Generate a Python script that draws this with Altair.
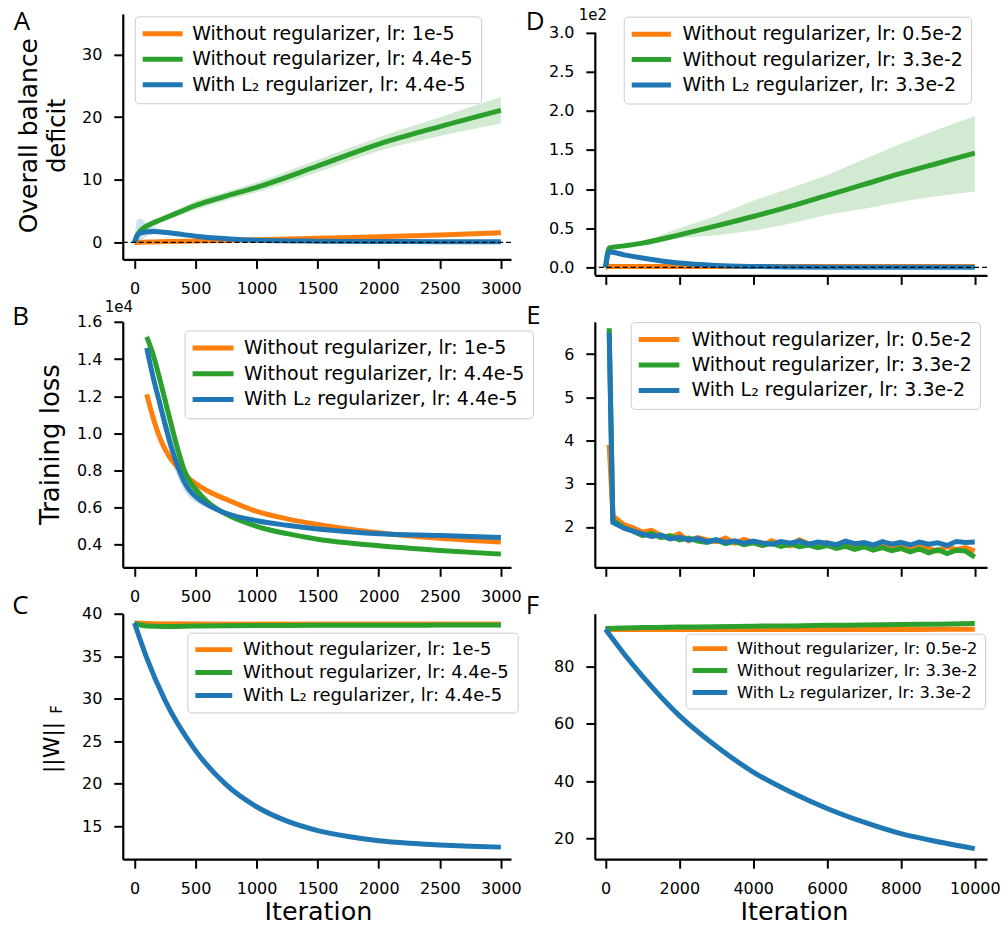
import altair as alt
import pandas as pd

ORANGE, GREEN, BLUE = "#ff7f0e", "#2ca02c", "#1f77b4"
PALETTE = [ORANGE, GREEN, BLUE]
FONT = "DejaVu Sans"
LETTER_FONT = "Open Sans"

LABELS_LEFT = ["Without regularizer, lr: 1e-5",
               "Without regularizer, lr: 4.4e-5",
               "With L\u2082 regularizer, lr: 4.4e-5"]
LABELS_RIGHT = ["Without regularizer, lr: 0.5e-2",
                "Without regularizer, lr: 3.3e-2",
                "With L\u2082 regularizer, lr: 3.3e-2"]

LEFT_XTICKS = [0, 500, 1000, 1500, 2000, 2500, 3000]
RIGHT_XTICKS = [0, 2000, 4000, 6000, 8000, 10000]

# ---------------- Panel A : overall balance deficit ----------------
A_iter = [0, 25, 50, 100, 150, 200, 300, 400, 500, 750, 1000, 1500, 2000, 2500, 3000]
A_orange = [0.0, 0.02, 0.03, 0.06, 0.08, 0.1, 0.14, 0.18, 0.22, 0.32, 0.42, 0.65, 0.9, 1.2, 1.55]
A_orange_lo = [-0.1, -0.08, -0.07, -0.05, -0.03, -0.01, 0.03, 0.07, 0.1, 0.18, 0.27, 0.45, 0.65, 0.9, 1.2]
A_orange_hi = [0.1, 0.12, 0.13, 0.17, 0.19, 0.21, 0.25, 0.29, 0.34, 0.46, 0.57, 0.85, 1.15, 1.5, 1.9]
A_green = [0.0, 1.2, 1.9, 2.6, 3.1, 3.5, 4.3, 5.1, 5.9, 7.4, 8.8, 12.2, 15.7, 18.5, 21.1]
A_green_lo = [0.0, 0.7, 1.4, 2.1, 2.6, 3.0, 3.8, 4.5, 5.2, 6.7, 8.0, 11.2, 14.6, 17.0, 19.0]
A_green_hi = [0.0, 1.7, 2.4, 3.1, 3.6, 4.0, 4.8, 5.7, 6.6, 8.1, 9.6, 13.2, 16.8, 20.0, 23.2]
A_blue = [0.0, 1.2, 1.5, 1.7, 1.75, 1.7, 1.5, 1.25, 1.0, 0.6, 0.35, 0.2, 0.15, 0.12, 0.1]
A_blue_lo = [-0.6, -0.2, 0.3, 1.0, 1.3, 1.35, 1.25, 1.05, 0.85, 0.5, 0.28, 0.15, 0.1, 0.08, 0.06]
A_blue_hi = [0.6, 3.7, 3.8, 3.0, 2.5, 2.2, 1.8, 1.5, 1.2, 0.7, 0.42, 0.25, 0.2, 0.16, 0.14]

# ---------------- Panel B : training loss (raw values, axis in 1e4) ----------------
B_iter = [100, 150, 200, 250, 300, 350, 400, 450, 500, 600, 750, 1000, 1250, 1500, 2000, 2500, 3000]
B_orange = [12100, 10900, 9900, 9150, 8600, 8200, 7850, 7550, 7300, 6900, 6450, 5800, 5400, 5100, 4650, 4350, 4150]
B_green = [15200, 14300, 13100, 11800, 10500, 9250, 8150, 7450, 7000, 6300, 5650, 5000, 4600, 4300, 3950, 3700, 3500]
B_blue = [14600, 13100, 11800, 10500, 9300, 8300, 7500, 6950, 6600, 6150, 5700, 5300, 5050, 4850, 4600, 4500, 4400]
B_orange_sp = [100, 100, 100, 80, 70, 60, 60, 55, 50, 50, 50, 50, 50, 50, 50, 50, 50]
B_green_sp = [200, 300, 400, 500, 550, 500, 400, 300, 250, 150, 100, 80, 60, 50, 50, 50, 50]
B_blue_sp = [200, 300, 450, 600, 650, 600, 500, 400, 300, 150, 100, 80, 60, 50, 50, 50, 50]

# ---------------- Panel C : ||W||_F ----------------
C_iter = [0, 100, 250, 500, 750, 1000, 1250, 1500, 1750, 2000, 2250, 2500, 2750, 3000]
C_orange = [38.9, 38.85, 38.8, 38.78, 38.76, 38.75, 38.75, 38.75, 38.75, 38.75, 38.75, 38.75, 38.75, 38.75]
C_orange_sp = [0.05, 0.15, 0.3, 0.35, 0.35, 0.35, 0.35, 0.35, 0.35, 0.35, 0.35, 0.35, 0.35, 0.35]
C_green = [38.9, 38.55, 38.5, 38.55, 38.58, 38.6, 38.62, 38.63, 38.64, 38.65, 38.65, 38.66, 38.66, 38.67]
C_blue = [38.9, 34.8, 29.8, 23.9, 19.9, 17.3, 15.6, 14.5, 13.8, 13.3, 13.0, 12.8, 12.65, 12.55]

# ---------------- Panel D : overall balance deficit (raw values, axis in 1e2) ----------------
D_iter = [0, 100, 500, 1000, 2000, 3000, 4000, 5000, 6000, 7000, 8000, 9000, 10000]
D_orange = [0, 1.0, 1.2, 1.2, 1.2, 1.2, 1.3, 1.3, 1.3, 1.3, 1.3, 1.3, 1.3]
D_green = [0, 25, 27.5, 31, 41.5, 53, 65, 78, 92, 106, 120, 133, 146]
D_green_lo = [0, 24, 26, 28, 37, 41, 47, 56, 67, 75, 84, 91, 97]
D_green_hi = [0, 26, 30, 34, 50, 66, 85, 101, 118, 138, 158, 176, 193]
D_blue = [0, 20, 16, 12, 5.5, 2.5, 1.2, 0.6, 0.3, 0.2, 0.1, 0.1, 0.1]

# ---------------- Panel E : training loss ----------------
E_iter = [100, 200, 500, 750, 1000, 1250, 1500, 1750, 2000, 2250, 2500, 2750, 3000, 3250,
          3500, 3750, 4000, 4250, 4500, 4750, 5000, 5250, 5500, 5750, 6000, 6250, 6500,
          6750, 7000, 7250, 7500, 7750, 8000, 8250, 8500, 8750, 9000, 9250, 9500, 9750, 10000]
E_orange = [3.9, 2.25, 2.05, 1.98, 1.88, 1.92, 1.80, 1.76, 1.84, 1.68, 1.75, 1.70, 1.66, 1.74,
            1.62, 1.71, 1.64, 1.57, 1.68, 1.60, 1.56, 1.70, 1.61, 1.54, 1.64, 1.56, 1.62,
            1.51, 1.58, 1.50, 1.57, 1.48, 1.56, 1.47, 1.54, 1.50, 1.44, 1.55, 1.47, 1.52, 1.44]
E_green = [6.6, 2.15, 1.98, 1.90, 1.80, 1.85, 1.75, 1.80, 1.70, 1.74, 1.67, 1.64, 1.70, 1.61,
           1.66, 1.59, 1.63, 1.57, 1.62, 1.55, 1.60, 1.54, 1.58, 1.52, 1.57, 1.50, 1.55,
           1.48, 1.54, 1.46, 1.52, 1.45, 1.50, 1.42, 1.49, 1.40, 1.47, 1.38, 1.46, 1.44, 1.30]
E_blue = [6.5, 2.10, 1.97, 1.90, 1.84, 1.78, 1.81, 1.72, 1.76, 1.70, 1.73, 1.66, 1.70, 1.64,
          1.68, 1.62, 1.67, 1.63, 1.60, 1.66, 1.62, 1.67, 1.60, 1.65, 1.62, 1.59, 1.67,
          1.61, 1.64, 1.58, 1.66, 1.60, 1.64, 1.58, 1.65, 1.60, 1.63, 1.57, 1.66, 1.64, 1.65]

# ---------------- Panel F : ||W||_F ----------------
F_iter = [0, 500, 1000, 2000, 3000, 4000, 5000, 6000, 7000, 8000, 9000, 10000]
F_orange = [93.0, 92.9, 92.9, 92.9, 92.9, 92.9, 92.9, 92.95, 92.95, 92.95, 93.0, 93.0]
F_green = [93.3, 93.5, 93.6, 93.8, 93.9, 94.1, 94.2, 94.4, 94.5, 94.7, 94.8, 95.0]
F_blue = [93.0, 84.5, 76.7, 62.9, 52.2, 43.2, 36.3, 30.5, 25.7, 21.7, 18.9, 16.5]


def make_legend(x, y, length, font, clip, rowpad, pad, symoff, laboff):
    return alt.Legend(orient="none", legendX=x, legendY=y, title=None,
                      symbolType="stroke", symbolSize=length * length, symbolStrokeWidth=5,
                      clipHeight=clip, rowPadding=rowpad, padding=pad,
                      symbolOffset=symoff, labelOffset=laboff,
                      labelFontSize=font, labelFont=FONT, labelColor="black", labelLimit=500,
                      fillColor="rgba(255,255,255,0.85)", strokeColor="#cccccc", cornerRadius=4)


def make_panel(labels, lines, bands, xdom, ydom, w, h, xticks, yticks, legend,
               texts=(), xlabels=True, ylabel_expr=None, interp="monotone",
               zero_line=False, spine_top=None):
    xs = alt.Scale(domain=xdom, nice=False, zero=False)
    ys = alt.Scale(domain=ydom, nice=False, zero=False)
    xaxis = alt.Axis(values=xticks, labels=xlabels, title=None, labelFlush=False,
                     labelOverlap=False, format="d")
    ykw = dict(values=yticks, title=None, labelFlush=False, labelOverlap=False,
               domain=spine_top is None)
    if ylabel_expr:
        ykw["labelExpr"] = ylabel_expr
    else:
        ykw["format"] = "d"
    yaxis = alt.Axis(**ykw)
    cscale = alt.Scale(domain=labels, range=PALETTE)
    layers = []
    for it, lo, hi, lab in bands:
        df = pd.DataFrame({"it": it, "lo": lo, "hi": hi, "s": lab})
        layers.append(alt.Chart(df).mark_area(
            opacity=0.22, interpolate=interp, color=PALETTE[labels.index(lab)]).encode(
            x=alt.X("it:Q", scale=xs, axis=xaxis),
            y=alt.Y("lo:Q", scale=ys, axis=yaxis),
            y2="hi:Q"))
    for it, v, lab in lines:
        df = pd.DataFrame({"it": it, "v": v, "s": lab})
        layers.append(alt.Chart(df).mark_line(strokeWidth=5, interpolate=interp).encode(
            x=alt.X("it:Q", scale=xs, axis=xaxis),
            y=alt.Y("v:Q", scale=ys, axis=yaxis),
            color=alt.Color("s:N", scale=cscale, legend=legend)))
    if zero_line:
        layers.append(alt.Chart(pd.DataFrame({"z": [0]})).mark_rule(
            color="black", strokeWidth=1.3, strokeDash=[5, 3]).encode(
            y=alt.Y("z:Q", scale=ys, axis=yaxis)))
    if spine_top is not None:
        layers.append(alt.Chart(pd.DataFrame({"top": [spine_top], "bot": [ydom[0]]})).mark_rule(
            color="black", strokeWidth=2.2).encode(
            x=alt.value(0.5), y=alt.Y("top:Q", scale=ys, axis=yaxis), y2="bot:Q"))
    for t in texts:
        df = pd.DataFrame({"t": [t["text"]]})
        layers.append(alt.Chart(df).mark_text(
            font=t.get("font", FONT), fontSize=t["size"], angle=t.get("angle", 0),
            align=t.get("align", "left"), baseline="alphabetic", color="black").encode(
            text="t:N", x=alt.value(t["x"]), y=alt.value(t["y"])))
    return alt.layer(*layers).properties(width=w, height=h)


def letter(ch, x, y):
    return {"text": ch, "x": x, "y": y, "size": 26, "font": LETTER_FONT}


def ytitle(txt, x, y, size=24):
    return {"text": txt, "x": x, "y": y, "size": size, "angle": 270, "align": "center"}


LW, RW = 389, 393
LXDOM = [-96, 3083]
RXDOM = [-289, 10332]
COL_GAP = 84          # right column sits 3 px left so the last tick label stays inside the page
SHIFT = 3             # compensation for texts / legends of the right column
LEG_FONT = 19.0

pA = make_panel(
    LABELS_LEFT,
    [(A_iter, A_orange, LABELS_LEFT[0]), (A_iter, A_green, LABELS_LEFT[1]), (A_iter, A_blue, LABELS_LEFT[2])],
    [(A_iter, A_orange_lo, A_orange_hi, LABELS_LEFT[0]), (A_iter, A_green_lo, A_green_hi, LABELS_LEFT[1]),
     (A_iter, A_blue_lo, A_blue_hi, LABELS_LEFT[2])],
    LXDOM, [-2.71, 36.48], LW, 246, LEFT_XTICKS, [0, 10, 20, 30],
    make_legend(12, 2.5, 43, LEG_FONT, 19, 5.5, 8, -5.5, 7),
    texts=[letter("A", -109.3, 16.3), ytitle("Overall balance", -86, 122, 25), ytitle("deficit", -58, 122)],
    zero_line=True)

pD = make_panel(
    LABELS_RIGHT,
    [(D_iter, D_orange, LABELS_RIGHT[0]), (D_iter, D_green, LABELS_RIGHT[1]), (D_iter, D_blue, LABELS_RIGHT[2])],
    [(D_iter, D_green_lo, D_green_hi, LABELS_RIGHT[1])],
    RXDOM, [-10.2, 323.8], RW, 262, RIGHT_XTICKS, [0, 50, 100, 150, 200, 250, 300],
    make_legend(26 + SHIFT, 2.8, 42, LEG_FONT, 19, 5.5, 8, -5.2, 9),
    texts=[letter("D", -72.3 + SHIFT, 16.3), {"text": "1e2", "x": -19 + SHIFT, "y": 6.5, "size": 15}],
    xlabels=False, ylabel_expr="format(datum.value / 100, '.1f')", zero_line=True, spine_top=300)

pB = make_panel(
    LABELS_LEFT,
    [(B_iter, B_orange, LABELS_LEFT[0]), (B_iter, B_green, LABELS_LEFT[1]), (B_iter, B_blue, LABELS_LEFT[2])],
    [(B_iter, [v - s for v, s in zip(B_orange, B_orange_sp)], [v + s for v, s in zip(B_orange, B_orange_sp)], LABELS_LEFT[0]),
     (B_iter, [v - s for v, s in zip(B_green, B_green_sp)], [v + s for v, s in zip(B_green, B_green_sp)], LABELS_LEFT[1]),
     (B_iter, [v - s for v, s in zip(B_blue, B_blue_sp)], [v + s for v, s in zip(B_blue, B_blue_sp)], LABELS_LEFT[2])],
    LXDOM, [2790, 16010], LW, 246, LEFT_XTICKS, [4000, 6000, 8000, 10000, 12000, 14000, 16000],
    make_legend(62, 8.7, 42, LEG_FONT, 19, 5.8, 8, -3.5, 8),
    texts=[letter("B", -110.7, 2.8), {"text": "1e4", "x": -18, "y": -9.5, "size": 15},
           ytitle("Training loss", -64, 123, 26)],
    ylabel_expr="format(datum.value / 10000, '.1f')")

pE = make_panel(
    LABELS_RIGHT,
    [(E_iter, E_orange, LABELS_RIGHT[0]), (E_iter, E_green, LABELS_RIGHT[1]), (E_iter, E_blue, LABELS_RIGHT[2])],
    [],
    RXDOM, [1.064, 6.75], RW, 246, RIGHT_XTICKS, [2, 3, 4, 5, 6],
    make_legend(33 + SHIFT, 0.3, 42, LEG_FONT, 19, 5.5, 8, -3.8, 9.7),
    texts=[letter("E", -71.7 + SHIFT, 2.2)],
    xlabels=False, interp="linear")

pC = make_panel(
    LABELS_LEFT,
    [(C_iter, C_orange, LABELS_LEFT[0]), (C_iter, C_green, LABELS_LEFT[1]), (C_iter, C_blue, LABELS_LEFT[2])],
    [(C_iter, [v - s for v, s in zip(C_orange, C_orange_sp)], [v + s for v, s in zip(C_orange, C_orange_sp)], LABELS_LEFT[0])],
    LXDOM, [11.13, 40.0], LW, 246, LEFT_XTICKS, [15, 20, 25, 30, 35, 40],
    make_legend(64.7, 19, 39, 18, 18, 5, 8, -4.5, 8.3),
    texts=[letter("C", -110.8, 0.3), ytitle("||W||", -64, 134, 22), ytitle("F", -61, 96, 15),
           {"text": "Iteration", "x": 196, "y": 307, "size": 25.5, "align": "center"}])

pF = make_panel(
    LABELS_RIGHT,
    [(F_iter, F_orange, LABELS_RIGHT[0]), (F_iter, F_green, LABELS_RIGHT[1]), (F_iter, F_blue, LABELS_RIGHT[2])],
    [],
    RXDOM, [12.8, 98.45], RW, 246, RIGHT_XTICKS, [20, 40, 60, 80],
    make_legend(88 + SHIFT, 20, 36, 16.3, 16, 5, 7, -3.8, 7.3),
    texts=[letter("F", -72.3 + SHIFT, 0.3),
           {"text": "Iteration", "x": 197 + SHIFT, "y": 307, "size": 25.5, "align": "center"}])

chart = alt.concat(pA, pD, pB, pE, pC, pF, columns=2,
                   spacing={"row": 46.5, "column": COL_GAP}, bounds="flush", align="each")
chart = chart.resolve_scale(x="independent", y="independent",
                            color="independent").resolve_legend(color="independent")
chart = chart.properties(padding={"left": 4, "top": -1, "right": -1, "bottom": -5})
chart = chart.configure_axis(
    domainColor="black", domainWidth=2.2, tickColor="black", tickWidth=2, tickSize=9,
    labelFont=FONT, labelFontSize=16, labelColor="black", labelPadding=12, grid=False
).configure_view(stroke=None)

chart.save("out.html", embed_options={"renderer": "svg", "actions": False})
